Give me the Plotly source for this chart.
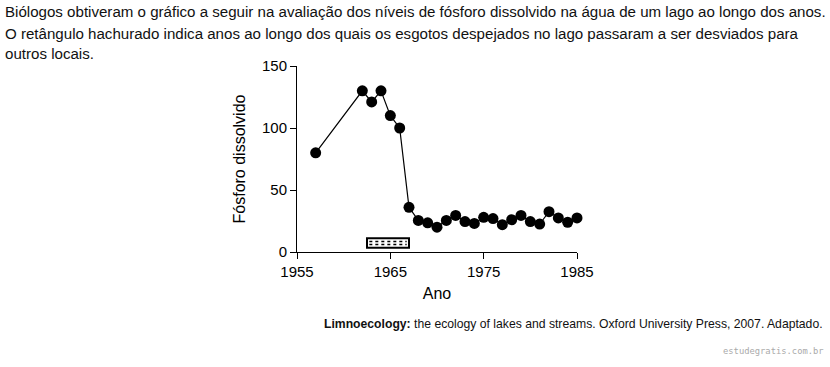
import plotly.graph_objects as go

years = [1957, 1962, 1963, 1964, 1965, 1966, 1967, 1968, 1969, 1970, 1971, 1972, 1973,
         1974, 1975, 1976, 1977, 1978, 1979, 1980, 1981, 1982, 1983, 1984, 1985]
fosforo = [80, 130, 121, 130, 110, 100, 36, 25.5, 23.5, 20, 25.5, 29.5, 24.5,
           23, 28, 27, 22, 26, 29.5, 24.5, 22.5, 32.5, 27.5, 24, 27.5]
x_ticks = [1955, 1965, 1975, 1985]
y_ticks = [0, 50, 100, 150]
desvio_anos = [1962.5, 1967]
desvio_nivel = [3.5, 11]

W, H = 830, 367
L, R, T, B = 296.7, 577.3, 65.7, 252.3


def px(x):
    return (x - L) / (R - L)


def py(y):
    return (B - y) / (B - T)


fig = go.Figure()
fig.add_trace(go.Scatter(
    x=years, y=fosforo, mode="lines+markers",
    line=dict(color="black", width=1.2),
    marker=dict(color="black", size=11),
    cliponaxis=False, showlegend=False,
))

# hatched rectangle (sewage diversion years)
fig.add_shape(type="rect", xref="x", yref="y",
              x0=desvio_anos[0], x1=desvio_anos[1], y0=desvio_nivel[0], y1=desvio_nivel[1],
              line=dict(color="black", width=2), fillcolor="white")
for frac in (0.33, 0.67):
    yy = desvio_nivel[0] + frac * (desvio_nivel[1] - desvio_nivel[0])
    fig.add_shape(type="line", xref="x", yref="y",
                  x0=desvio_anos[0] + 0.25, x1=desvio_anos[1] - 0.25, y0=yy, y1=yy,
                  line=dict(color="black", width=1.5, dash="dot"))

font_main = "Liberation Sans, Arial, sans-serif"

fig.update_layout(
    width=W, height=H,
    margin=dict(l=L, r=W - R, t=T, b=H - B, pad=0),
    paper_bgcolor="white", plot_bgcolor="white",
    font=dict(family=font_main, color="black", size=14),
    xaxis=dict(range=[1955, 1985], tickvals=x_ticks, showline=True, linecolor="black",
               linewidth=1, ticks="outside", ticklen=6, tickwidth=1, tickcolor="black",
               showgrid=False, zeroline=False, tickfont=dict(size=15),
               title=dict(text="Ano", font=dict(size=16), standoff=8)),
    yaxis=dict(range=[0, 150], tickvals=y_ticks, showline=True, linecolor="black",
               linewidth=1, ticks="outside", ticklen=6, tickwidth=1, tickcolor="black",
               showgrid=False, zeroline=False, tickfont=dict(size=15),
               title=dict(text="Fósforo dissolvido", font=dict(size=16), standoff=12)),
)

fig.add_annotation(
    text="Biólogos obtiveram o gráfico a seguir na avaliação dos níveis de fósforo dissolvido na água de um lago ao longo dos anos.",
    xref="paper", yref="paper", x=px(2), y=py(11.5), xanchor="left", yanchor="middle",
    showarrow=False, font=dict(size=15.1, family=font_main, color="#111"))
fig.add_annotation(
    text="O retângulo hachurado indica anos ao longo dos quais os esgotos despejados no lago passaram a ser desviados para<br>outros locais.",
    xref="paper", yref="paper", x=px(2), y=py(23), xanchor="left", yanchor="top", align="left",
    showarrow=False, font=dict(size=15.1, family=font_main, color="#111"))

fig.add_annotation(text="<b>Limnoecology:</b> the ecology of lakes and streams. Oxford University Press, 2007. Adaptado.",
                   xref="paper", yref="paper", x=px(826), y=py(325), xanchor="right", yanchor="middle",
                   showarrow=False, font=dict(size=12.2, family=font_main, color="#111"))
fig.add_annotation(text="estudegratis.com.br",
                   xref="paper", yref="paper", x=px(827), y=py(352), xanchor="right", yanchor="middle",
                   showarrow=False, font=dict(size=8.8, family="DejaVu Sans Mono, monospace", color="#aaa"))

fig.write_html("out.html", config={"displayModeBar": False},
               post_script="document.body.style.margin='0';")
